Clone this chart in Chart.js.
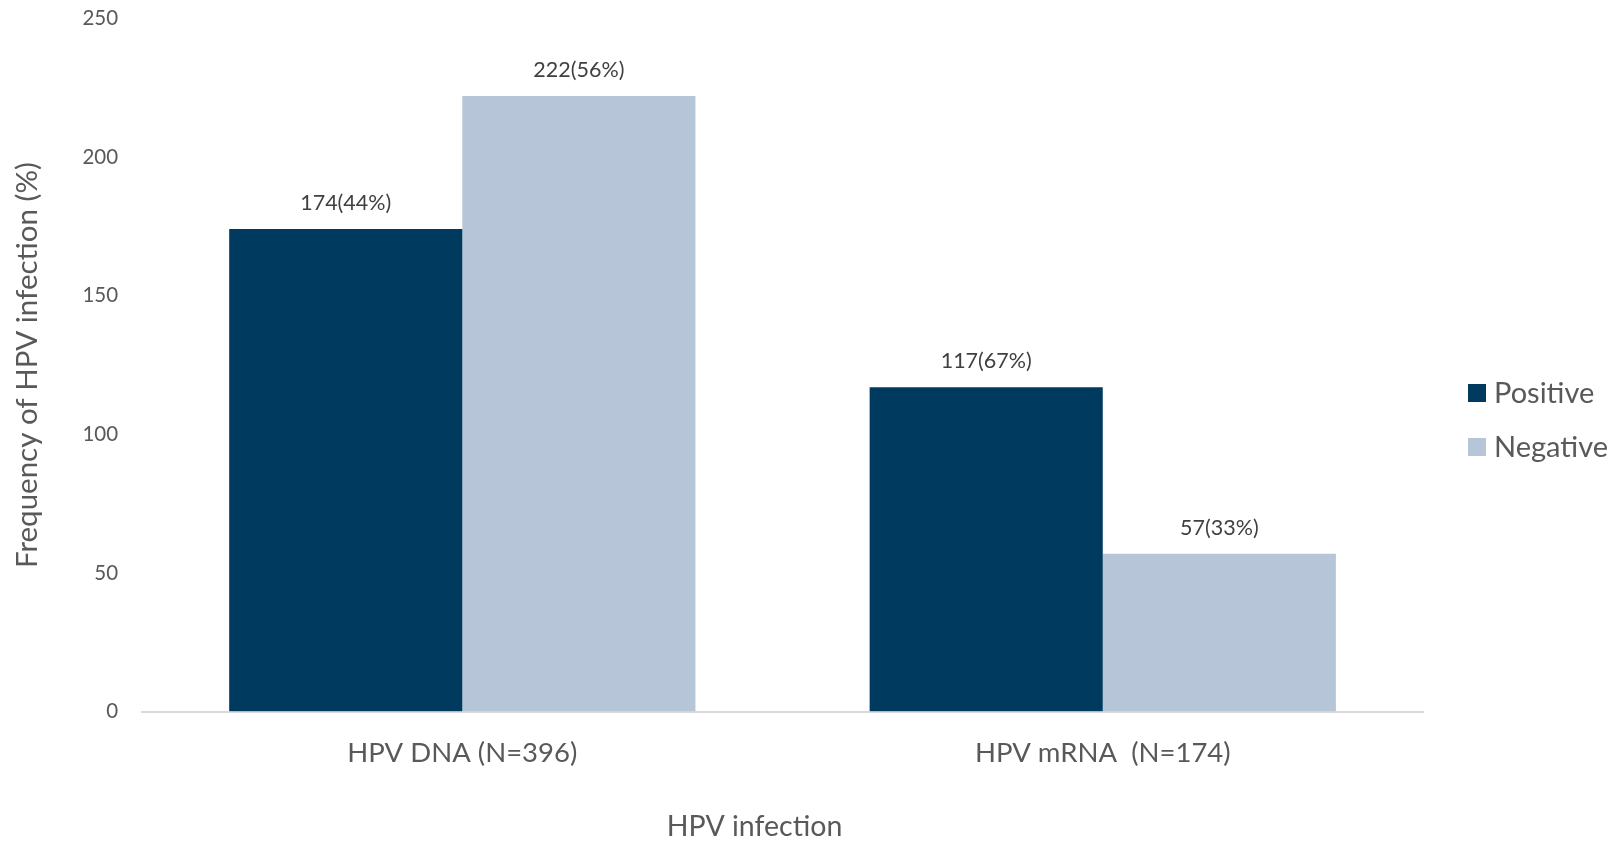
<!DOCTYPE html>
<html>
<head>
<meta charset="utf-8">
<script src="https://cdn.jsdelivr.net/npm/chart.js@4.4.0/dist/chart.umd.min.js"></script>
<style>
  html, body { margin: 0; padding: 0; background: #fff; }
  #wrap { width: 1623px; height: 841px; }
</style>
</head>
<body>
<div id="wrap"><canvas id="grafico"></canvas></div>
<script>
const categorias = ['HPV DNA (N=396)', 'HPV mRNA  (N=174)'];
const positivos = [174, 117];
const negativos = [222, 57];
const etiquetasPos = ['174(44%)', '117(67%)'];
const etiquetasNeg = ['222(56%)', '57(33%)'];
const tituloX = 'HPV infection';

const fuente = "Lato, 'Open Sans', sans-serif";

// Etiquetas encima de cada barra
const etiquetasPlugin = {
  id: 'etiquetas',
  afterDatasetsDraw(chart) {
    const c = chart.ctx;
    c.save();
    c.font = '21.5px ' + fuente;
    c.fillStyle = '#404040';
    c.textAlign = 'center';
    c.textBaseline = 'middle';
    chart.data.datasets.forEach((ds, i) => {
      chart.getDatasetMeta(i).data.forEach((bar, j) => {
        c.fillText(ds.etiquetas[j], bar.x, bar.y - 26);
      });
    });
    c.restore();
  }
};

// Leyenda a la derecha y título del eje X (algo desplazado a la izquierda, como en el original)
const leyendaPlugin = {
  id: 'leyenda',
  afterDraw(chart) {
    const c = chart.ctx;
    const area = chart.chartArea;
    const x = area.right + 45;
    let y = 393;
    c.save();
    c.font = '29px ' + fuente;
    c.textBaseline = 'middle';
    chart.data.datasets.forEach(ds => {
      c.fillStyle = ds.backgroundColor;
      c.fillRect(x, y - 9, 18, 18);
      c.fillStyle = '#595959';
      c.fillText(ds.label, x + 26, y + 1);
      y += 54;
    });

    c.font = '28.5px ' + fuente;
    c.textAlign = 'center';
    c.fillStyle = '#595959';
    c.fillText(tituloX, (area.left + area.right) / 2 - 28, chart.height - 14);
    c.restore();
  }
};

new Chart(document.getElementById('grafico'), {
  type: 'bar',
  data: {
    labels: categorias,
    datasets: [
      { label: 'Positive', data: positivos, etiquetas: etiquetasPos, backgroundColor: '#003B5F' },
      { label: 'Negative', data: negativos, etiquetas: etiquetasNeg, backgroundColor: '#B6C5D8' }
    ]
  },
  options: {
    responsive: true,
    maintainAspectRatio: false,
    animation: false,
    layout: { padding: { top: 0, right: 200, bottom: 0, left: 0 } },
    datasets: { bar: { categoryPercentage: 0.728, barPercentage: 1.0 } },
    plugins: {
      legend: { display: false },
      tooltip: { enabled: false }
    },
    scales: {
      x: {
        grid: { display: false, drawTicks: false },
        border: { display: true, color: '#D9D9D9', width: 2 },
        ticks: { color: '#595959', font: { family: fuente, size: 27.5 }, padding: 25 },
        title: {
          // reserva el espacio; el texto lo pinta el plugin
          display: true,
          text: tituloX,
          color: 'rgba(0,0,0,0)',
          font: { family: fuente, size: 28.5 },
          padding: { top: 16, bottom: -4 }
        }
      },
      y: {
        min: 0,
        max: 250,
        ticks: { stepSize: 50, color: '#595959', font: { family: fuente, size: 20.5 }, padding: 6 },
        grid: { display: true, drawOnChartArea: false, drawTicks: true, tickLength: 18, color: 'rgba(0,0,0,0)' },
        border: { display: false },
        title: {
          display: true,
          text: 'Frequency of HPV infection (%)',
          color: '#595959',
          font: { family: fuente, size: 29.5 },
          padding: { top: 10, bottom: 31 }
        }
      }
    }
  },
  plugins: [etiquetasPlugin, leyendaPlugin]
});
</script>
</body>
</html>
